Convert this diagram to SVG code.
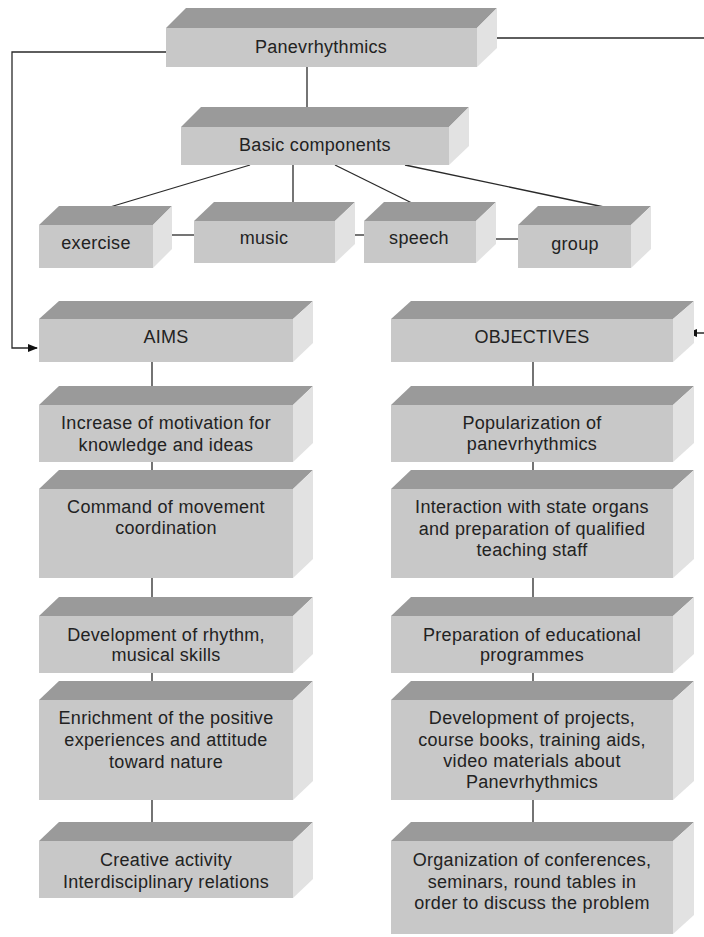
<svg xmlns="http://www.w3.org/2000/svg" width="704" height="937" viewBox="0 0 704 937">
<style>
.top{fill:#9a9a9a}
.front{fill:#c8c8c8}
.side{fill:#e2e2e2}
text{font-family:"Liberation Sans",Arial,sans-serif;font-size:18px;letter-spacing:0.3px;fill:#222;text-anchor:middle}
.ln{stroke:#2a2a2a;stroke-width:1.3;fill:none}
</style>
<defs>
<marker id="ah" markerWidth="10" markerHeight="8" refX="9" refY="4" orient="auto" markerUnits="userSpaceOnUse">
<path d="M0,0 L10,4 L0,8 Z" fill="#111"/>
</marker>
</defs>
<rect width="704" height="937" fill="#fff"/>

<g id="connectors">
<path class="ln" d="M166,52 H12 V348 H37" marker-end="url(#ah)"/>
<path class="ln" d="M490,38 H705 V333 H688" marker-end="url(#ah)"/>
<path class="ln" d="M307,67 V127"/>
<path class="ln" d="M250,165 L110,207"/>
<path class="ln" d="M293,165 V207"/>
<path class="ln" d="M335,165 L420,207"/>
<path class="ln" d="M405,165 L604,207"/>
<path class="ln" d="M166,235 H194"/>
<path class="ln" d="M349,235 H364"/>
<path class="ln" d="M490,239 H518"/>
<path class="ln" d="M152,362 V405 M152,462 V489 M152,578 V616 M152,673 V700 M152,800 V841"/>
<path class="ln" d="M533,362 V405 M533,462 V489 M533,578 V616 M533,673 V700 M533,800 V841"/>
</g>

<g id="panevrhythmics">
<polygon class="top" points="166,28 186,8 497,8 477,28"/>
<polygon class="side" points="477,28 497,8 497,48 477,67"/>
<rect class="front" x="166" y="28" width="311" height="39"/>
<text x="321" y="53">Panevrhythmics</text>
</g>
<g id="basic">
<polygon class="top" points="181,127 201,107 469,107 449,127"/>
<polygon class="side" points="449,127 469,107 469,146 449,165"/>
<rect class="front" x="181" y="127" width="268" height="38"/>
<text x="315" y="151">Basic components</text>
</g>
<g id="exercise">
<polygon class="top" points="39,225 59,206 172,206 153,225"/>
<polygon class="side" points="153,225 172,206 172,249 153,268"/>
<rect class="front" x="39" y="225" width="114" height="43"/>
<text x="96" y="249">exercise</text>
</g>
<g id="music">
<polygon class="top" points="194,221 214,202 355,202 335,221"/>
<polygon class="side" points="335,221 355,202 355,244 335,263"/>
<rect class="front" x="194" y="221" width="141" height="42"/>
<text x="264" y="244">music</text>
</g>
<g id="speech">
<polygon class="top" points="364,221 384,202 496,202 476,221"/>
<polygon class="side" points="476,221 496,202 496,244 476,263"/>
<rect class="front" x="364" y="221" width="112" height="42"/>
<text x="419" y="244">speech</text>
</g>
<g id="group">
<polygon class="top" points="518,225 538,206 651,206 631,225"/>
<polygon class="side" points="631,225 651,206 651,249 631,268"/>
<rect class="front" x="518" y="225" width="113" height="43"/>
<text x="575" y="250">group</text>
</g>

<g id="aims">
<polygon class="top" points="39,319 59,301 313,301 293,319"/>
<polygon class="side" points="293,319 313,301 313,343 293,362"/>
<rect class="front" x="39" y="319" width="254" height="43"/>
<text x="166" y="343">AIMS</text>
</g>
<g id="aim1">
<polygon class="top" points="39,405 59,386 313,386 293,405"/>
<polygon class="side" points="293,405 313,386 313,443 293,462"/>
<rect class="front" x="39" y="405" width="254" height="57"/>
<text x="166" y="429">Increase of motivation for</text>
<text x="166" y="451">knowledge and ideas</text>
</g>
<g id="aim2">
<polygon class="top" points="39,489 59,470 313,470 293,489"/>
<polygon class="side" points="293,489 313,470 313,559 293,578"/>
<rect class="front" x="39" y="489" width="254" height="89"/>
<text x="166" y="513">Command of movement</text>
<text x="166" y="534">coordination</text>
</g>
<g id="aim3">
<polygon class="top" points="39,616 59,597 313,597 293,616"/>
<polygon class="side" points="293,616 313,597 313,654 293,673"/>
<rect class="front" x="39" y="616" width="254" height="57"/>
<text x="166" y="641">Development of rhythm,</text>
<text x="166" y="661">musical skills</text>
</g>
<g id="aim4">
<polygon class="top" points="39,700 59,681 313,681 293,700"/>
<polygon class="side" points="293,700 313,681 313,781 293,800"/>
<rect class="front" x="39" y="700" width="254" height="100"/>
<text x="166" y="724">Enrichment of the positive</text>
<text x="166" y="746">experiences and attitude</text>
<text x="166" y="768">toward nature</text>
</g>
<g id="aim5">
<polygon class="top" points="39,841 59,822 313,822 293,841"/>
<polygon class="side" points="293,841 313,822 313,879 293,898"/>
<rect class="front" x="39" y="841" width="254" height="57"/>
<text x="166" y="866">Creative activity</text>
<text x="166" y="888">Interdisciplinary relations</text>
</g>

<g id="objectives">
<polygon class="top" points="391,319 411,301 694,301 673,319"/>
<polygon class="side" points="673,319 694,301 694,343 673,362"/>
<rect class="front" x="391" y="319" width="282" height="43"/>
<text x="532" y="343">OBJECTIVES</text>
</g>
<g id="obj1">
<polygon class="top" points="391,405 411,386 694,386 673,405"/>
<polygon class="side" points="673,405 694,386 694,443 673,462"/>
<rect class="front" x="391" y="405" width="282" height="57"/>
<text x="532" y="429">Popularization of</text>
<text x="532" y="450">panevrhythmics</text>
</g>
<g id="obj2">
<polygon class="top" points="391,489 411,470 694,470 673,489"/>
<polygon class="side" points="673,489 694,470 694,559 673,578"/>
<rect class="front" x="391" y="489" width="282" height="89"/>
<text x="532" y="513">Interaction with state organs</text>
<text x="532" y="535">and preparation of qualified</text>
<text x="532" y="556">teaching staff</text>
</g>
<g id="obj3">
<polygon class="top" points="391,616 411,597 694,597 673,616"/>
<polygon class="side" points="673,616 694,597 694,654 673,673"/>
<rect class="front" x="391" y="616" width="282" height="57"/>
<text x="532" y="641">Preparation of educational</text>
<text x="532" y="661">programmes</text>
</g>
<g id="obj4">
<polygon class="top" points="391,700 411,681 694,681 673,700"/>
<polygon class="side" points="673,700 694,681 694,781 673,800"/>
<rect class="front" x="391" y="700" width="282" height="100"/>
<text x="532" y="724">Development of projects,</text>
<text x="532" y="746">course books, training aids,</text>
<text x="532" y="767">video materials about</text>
<text x="532" y="788">Panevrhythmics</text>
</g>
<g id="obj5">
<polygon class="top" points="391,841 411,822 694,822 673,841"/>
<polygon class="side" points="673,841 694,822 694,915 673,934"/>
<rect class="front" x="391" y="841" width="282" height="93"/>
<text x="532" y="866">Organization of conferences,</text>
<text x="532" y="888">seminars, round tables in</text>
<text x="532" y="909">order to discuss the problem</text>
</g>
</svg>
